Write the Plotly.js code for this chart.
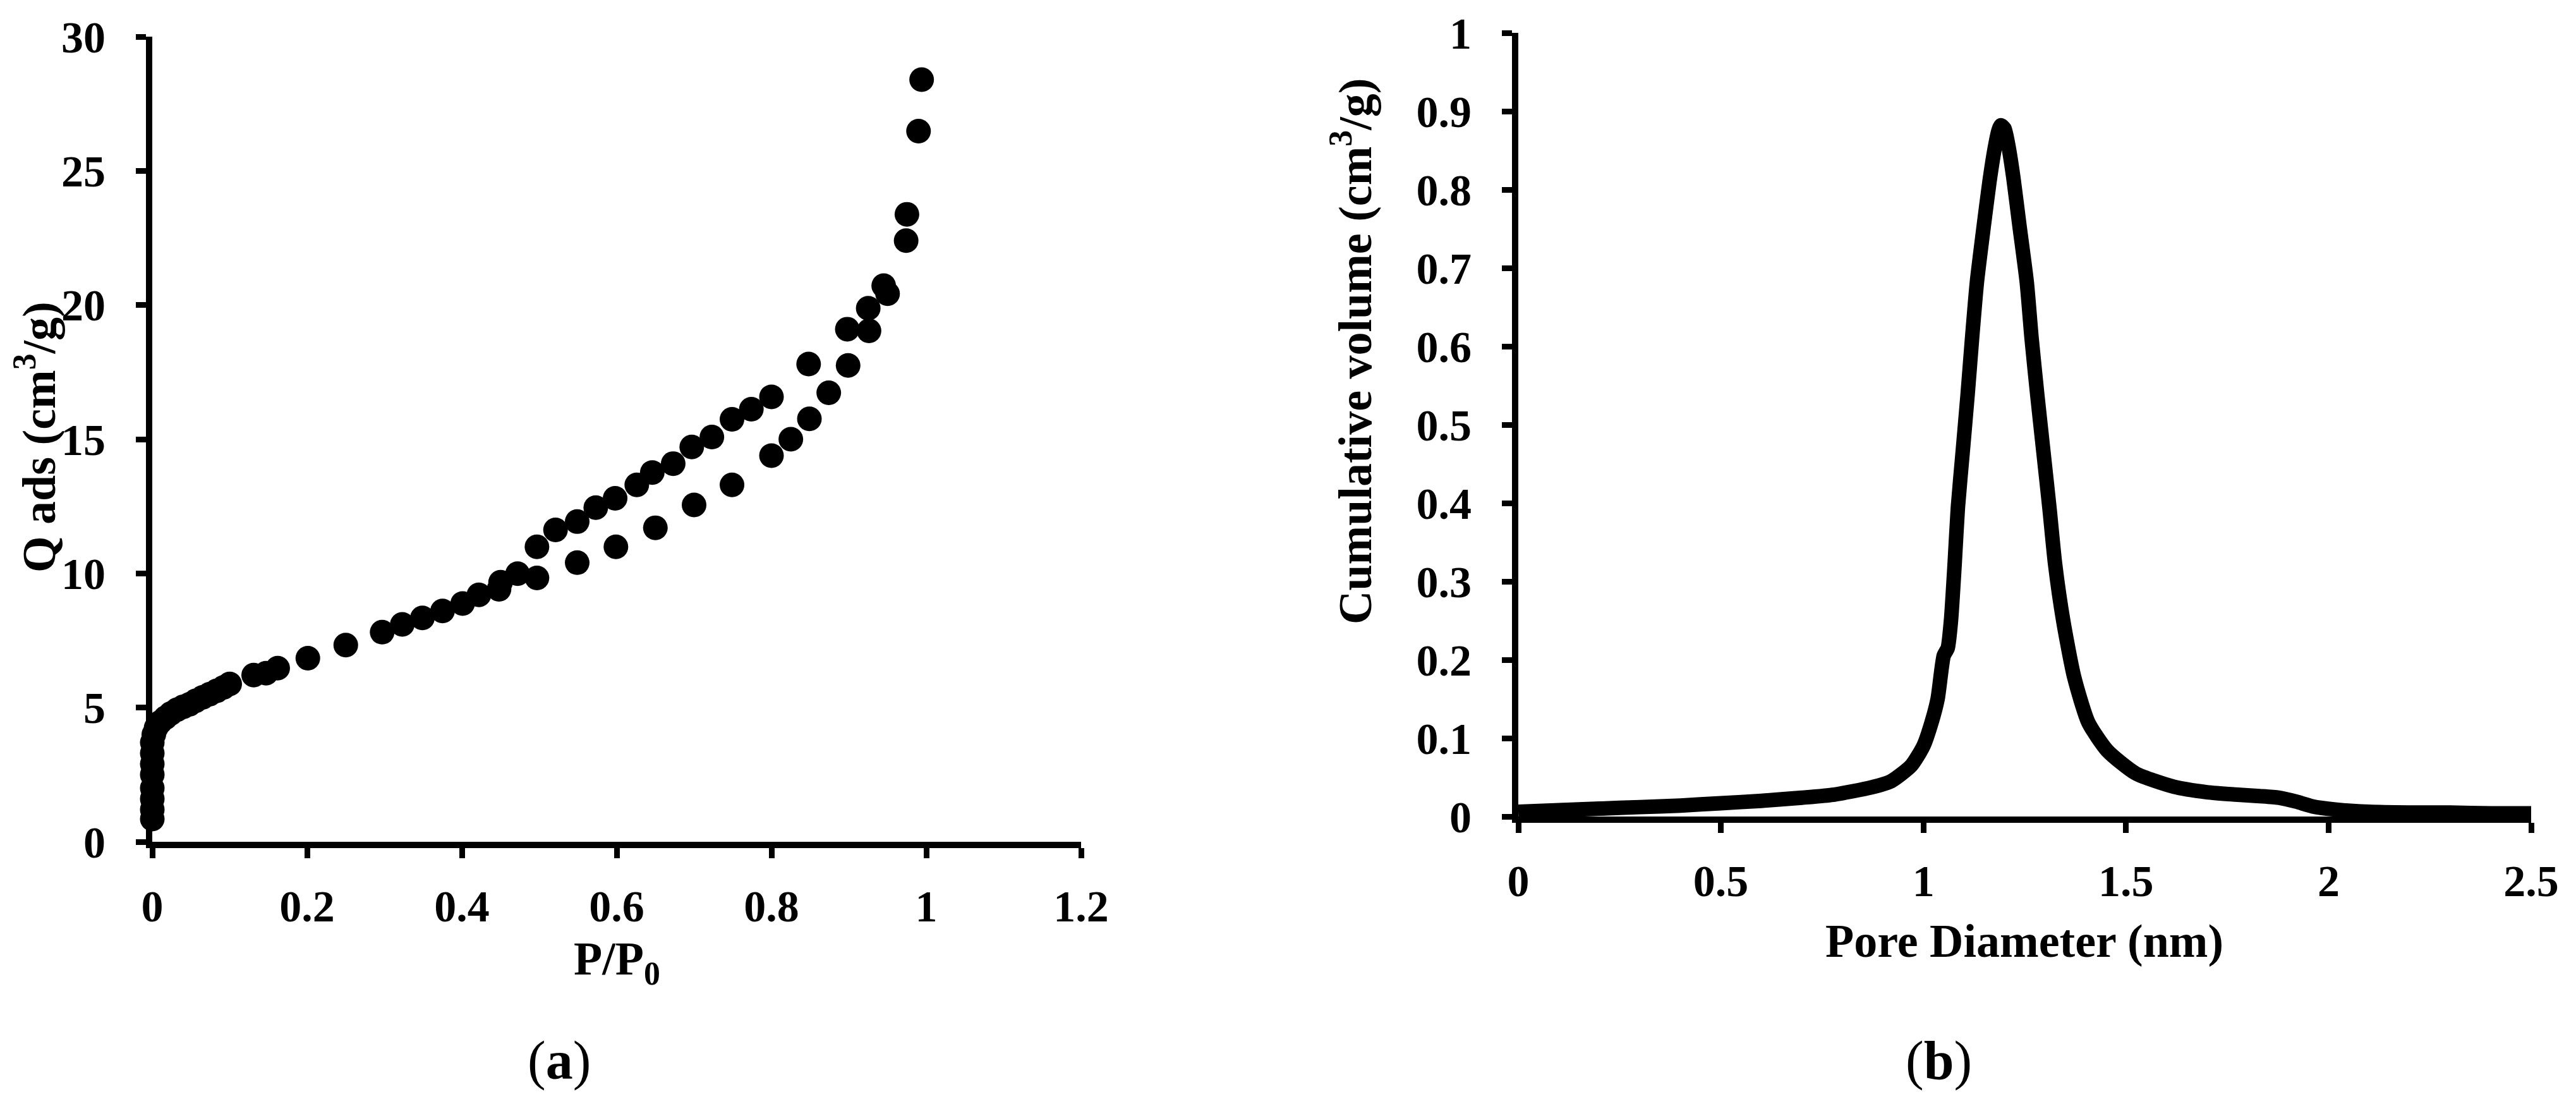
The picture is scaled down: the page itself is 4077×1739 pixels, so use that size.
<!DOCTYPE html>
<html>
<head>
<meta charset="utf-8">
<script src="https://cdn.plot.ly/plotly-3.0.1.min.js"></script>
<style>
  html, body { margin: 0; padding: 0; background: #ffffff; }
  #chart { width: 4077px; height: 1739px; }
</style>
</head>
<body>
<div id="chart"></div>
<script>
// (a) isotherm, lower branch
const adsP = [0, 0, 0, 0, 0, 0, 0, 0, 0.002, 0.005, 0.01, 0.017, 0.024, 0.032, 0.04, 0.048, 0.056, 0.065,
  0.074, 0.083, 0.092, 0.1, 0.131, 0.147, 0.162, 0.201, 0.25, 0.297, 0.323, 0.349, 0.375, 0.401, 0.422,
  0.448, 0.45, 0.472, 0.497, 0.549, 0.599, 0.65, 0.7, 0.749, 0.8, 0.825, 0.849, 0.874, 0.899, 0.926,
  0.95, 0.974, 0.99];
const adsQ = [0.85, 1.2, 1.6, 2.0, 2.5, 2.9, 3.3, 3.7, 4.0, 4.25, 4.45, 4.62, 4.78, 4.92, 5.03, 5.12, 5.25, 5.38,
  5.5, 5.62, 5.75, 5.88, 6.21, 6.28, 6.47, 6.84, 7.33, 7.81, 8.1, 8.34, 8.6, 8.88, 9.2,
  9.41, 9.67, 9.99, 9.83, 10.4, 10.99, 11.7, 12.55, 13.3, 14.39, 15.0, 15.76, 16.73, 17.75, 19.04,
  20.42, 22.4, 26.48];

// (a) isotherm, upper branch
const desP = [0.497, 0.521, 0.549, 0.573, 0.598, 0.626, 0.646, 0.673, 0.697, 0.723, 0.749, 0.774, 0.8,
  0.848, 0.898, 0.925, 0.945, 0.975, 0.994];
const desQ = [10.99, 11.62, 11.93, 12.45, 12.8, 13.3, 13.76, 14.09, 14.71, 15.08, 15.74, 16.12, 16.58,
  17.8, 19.1, 19.88, 20.72, 23.38, 28.4];

// (b) pore size distribution
const poreD = [0, 0.1, 0.2, 0.3, 0.4, 0.5, 0.6, 0.7, 0.78, 0.87, 0.92, 0.97, 1.0, 1.02, 1.035, 1.05, 1.06,
  1.068, 1.077, 1.085, 1.097, 1.109, 1.12, 1.132, 1.149, 1.163, 1.175, 1.185, 1.191, 1.2, 1.21, 1.222,
  1.237, 1.255, 1.267, 1.281, 1.296, 1.311, 1.325, 1.345, 1.372, 1.407, 1.454, 1.524, 1.618, 1.7, 1.77,
  1.83, 1.876, 1.92, 1.96, 2.016, 2.1, 2.2, 2.3, 2.4, 2.5];
const poreV = [0.006, 0.008, 0.01, 0.012, 0.014, 0.017, 0.02, 0.024, 0.028, 0.037, 0.045, 0.065, 0.09, 0.12,
  0.15, 0.205, 0.215, 0.25, 0.322, 0.394, 0.466, 0.538, 0.61, 0.682, 0.754, 0.81, 0.85, 0.875, 0.882,
  0.878, 0.855, 0.815, 0.754, 0.682, 0.61, 0.538, 0.466, 0.394, 0.322, 0.25, 0.178, 0.12, 0.084, 0.055,
  0.038, 0.031, 0.028, 0.026, 0.024, 0.019, 0.013, 0.009, 0.006, 0.005, 0.005, 0.004, 0.004];

const W = 4077, H = 1739;
const FONT = 'Liberation Serif, Times New Roman, serif';
const px = v => v / W;
const py = v => (H - v) / H;

function axisStyle(extra) {
  return Object.assign({
    showline: true,
    linecolor: '#000',
    linewidth: 10,
    ticks: 'outside',
    ticklen: 16,
    tickwidth: 9,
    tickcolor: '#000',
    showgrid: false,
    zeroline: false,
    ticklabelstandoff: 34,
    tickfont: { family: FONT, size: 70, color: '#000', weight: 'bold' }
  }, extra);
}

const traces = [
  {
    x: adsP, y: adsQ, type: 'scatter', mode: 'markers', name: 'adsorption',
    xaxis: 'x', yaxis: 'y', cliponaxis: false,
    marker: { size: 39, color: '#000' }
  },
  {
    x: desP, y: desQ, type: 'scatter', mode: 'markers', name: 'desorption',
    xaxis: 'x', yaxis: 'y', cliponaxis: false,
    marker: { size: 39, color: '#000' }
  },
  {
    x: poreD, y: poreV, type: 'scatter', mode: 'lines', name: 'pore volume',
    xaxis: 'x2', yaxis: 'y2', cliponaxis: false,
    line: { color: '#000', width: 23, shape: 'spline', smoothing: 0.6 }
  }
];

// axis titles are placed as annotations so they sit exactly where the figure has them
const titleFont = { family: FONT, size: 74, color: '#000', weight: 'bold' };
const panelFont = { family: FONT, size: 86, color: '#000' };

const layout = {
  width: W,
  height: H,
  margin: { l: 0, r: 0, t: 0, b: 0 },
  paper_bgcolor: '#ffffff',
  plot_bgcolor: '#ffffff',
  showlegend: false,
  xaxis: axisStyle({ domain: [px(241), px(1711)], range: [0, 1.2], dtick: 0.2, tick0: 0, anchor: 'y',
    ticklabelstandoff: 16 }),
  yaxis: axisStyle({ domain: [py(1332), py(58)], range: [0, 30], dtick: 5, tick0: 0, anchor: 'x' }),
  xaxis2: axisStyle({ domain: [px(2403), px(4006)], range: [0, 2.5], dtick: 0.5, tick0: 0, anchor: 'y2',
    ticklabelstandoff: 16 }),
  yaxis2: axisStyle({ domain: [py(1292), py(52)], range: [0, 1], dtick: 0.1, tick0: 0, anchor: 'x2' }),
  annotations: [
    { text: 'Q ads (cm<sup>3</sup>/g)', xref: 'paper', yref: 'paper', x: px(56), y: py(692),
      textangle: -90, showarrow: false, xanchor: 'center', yanchor: 'middle', font: titleFont },
    { text: 'P/P<sub>0</sub>', xref: 'paper', yref: 'paper', x: px(976), y: py(1522),
      showarrow: false, xanchor: 'center', yanchor: 'middle', font: titleFont },
    { text: 'Cumulative volume (cm<sup>3</sup>/g)', xref: 'paper', yref: 'paper', x: px(2139), y: py(556),
      textangle: -90, showarrow: false, xanchor: 'center', yanchor: 'middle', font: titleFont },
    { text: 'Pore Diameter (nm)', xref: 'paper', yref: 'paper', x: px(3204), y: py(1489),
      showarrow: false, xanchor: 'center', yanchor: 'middle', font: titleFont },
    { text: '(<b>a</b>)', xref: 'paper', yref: 'paper', x: px(885), y: py(1678),
      showarrow: false, xanchor: 'center', yanchor: 'middle', font: panelFont },
    { text: '(<b>b</b>)', xref: 'paper', yref: 'paper', x: px(3068), y: py(1678),
      showarrow: false, xanchor: 'center', yanchor: 'middle', font: panelFont }
  ]
};

Plotly.newPlot('chart', traces, layout, { displayModeBar: false, staticPlot: true });
</script>
</body>
</html>
